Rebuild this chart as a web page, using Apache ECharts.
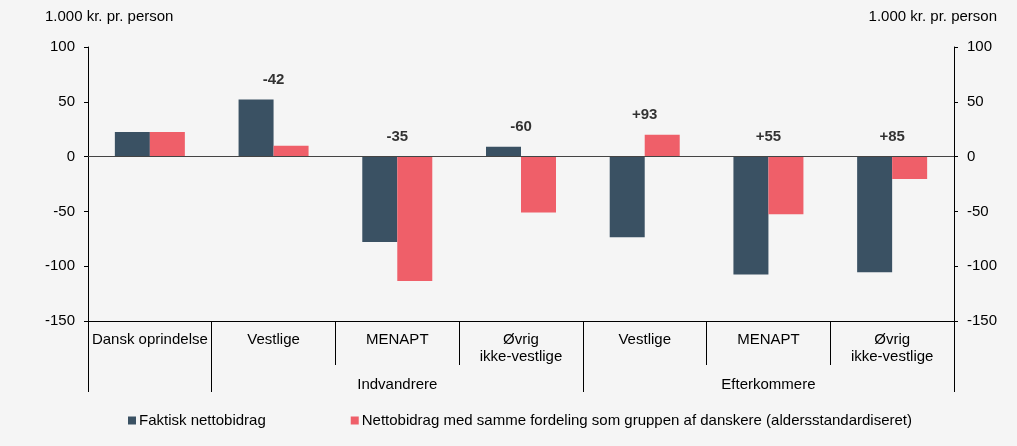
<!DOCTYPE html>
<html>
<head>
<meta charset="utf-8">
<script src="https://cdn.jsdelivr.net/npm/echarts@6/dist/echarts.min.js"></script>
<style>
  html, body { margin: 0; padding: 0; background: #f5f5f5; }
  #chart { width: 1017px; height: 446px; }
</style>
</head>
<body>
<div id="chart"></div>
<script>
// categories on the axis and the two group labels under them
var categories = ['Dansk oprindelse', 'Vestlige', 'MENAPT', 'Øvrig\nikke-vestlige', 'Vestlige', 'MENAPT', 'Øvrig\nikke-vestlige']
var groups = ['', '', 'Indvandrere', '', '', 'Efterkommere', '']
var groupEdges = [0, 1, 4]

// 1.000 kr. pr. person
var faktisk = [22.5, 52, -78, 9, -73.5, -107.5, -105.5]
var samme = [22.5, 10, -113.5, -51, 20, -52.5, -20.5]
var diffLabels = ['', '-42', '-35', '-60', '+93', '+55', '+85']

var yTicks = { min: -150, max: 100, interval: 50 }

var font = 'Liberation Sans, Arial, sans-serif'
var dark = '#3a5163'
var red = '#ef5f69'

var labelPos = faktisk.map(function (v, i) {
  return Math.max(0, v, samme[i])
})

var myChart = echarts.init(document.getElementById('chart'))

var yAxisBase = {
  type: 'value',
  min: yTicks.min,
  max: yTicks.max,
  interval: yTicks.interval,
  axisLine: { show: true, lineStyle: { color: '#000', width: 1 } },
  axisTick: { show: true, length: 4, lineStyle: { color: '#000' } },
  axisLabel: { color: '#000', fontSize: 15, fontFamily: font, margin: 13 },
  splitLine: { show: false }
}

var option = {
  backgroundColor: '#f5f5f5',
  animation: false,
  textStyle: { fontFamily: font },
  grid: { left: 88, right: 63, top: 47, bottom: 125 },
  graphic: [
    { type: 'text', left: 45, top: 9, style: { text: '1.000 kr. pr. person', fontSize: 15, fontFamily: font, fill: '#000' } },
    { type: 'text', right: 20, top: 9, style: { text: '1.000 kr. pr. person', fontSize: 15, fontFamily: font, fill: '#000' } }
  ],
  legend: {
    data: ['Faktisk nettobidrag', 'Nettobidrag med samme fordeling som gruppen af danskere (aldersstandardiseret)'],
    left: 123,
    top: 408,
    icon: 'rect',
    itemWidth: 8,
    itemHeight: 8,
    itemGap: 85,
    textStyle: { color: '#000', fontSize: 15, fontFamily: font, padding: [0, 0, 0, -2] }
  },
  xAxis: [
    {
      type: 'category',
      data: categories,
      position: 'bottom',
      axisLine: { onZero: false, lineStyle: { color: '#000', width: 1 } },
      axisTick: { show: true, interval: 0, length: 44, lineStyle: { color: '#000' } },
      axisLabel: { interval: 0, color: '#000', fontSize: 15, fontFamily: font, lineHeight: 17, margin: 10 }
    },
    {
      type: 'category',
      data: groups,
      position: 'bottom',
      axisLine: { show: false, onZero: false },
      axisTick: {
        show: true,
        length: 71,
        interval: function (index) { return groupEdges.indexOf(index) >= 0 },
        lineStyle: { color: '#000' }
      },
      axisLabel: { interval: 0, color: '#000', fontSize: 15, fontFamily: font, margin: 56 }
    }
  ],
  yAxis: [
    Object.assign({}, yAxisBase, { position: 'left' }),
    Object.assign({}, yAxisBase, { position: 'right' })
  ],
  series: [
    {
      name: 'Faktisk nettobidrag',
      type: 'bar',
      xAxisIndex: 0,
      yAxisIndex: 0,
      barWidth: 35,
      barGap: '0%',
      itemStyle: { color: dark },
      data: faktisk,
      markLine: {
        silent: true,
        symbol: 'none',
        label: { show: false },
        lineStyle: { color: '#444', type: 'solid', width: 1 },
        data: [{ yAxis: 0 }]
      }
    },
    {
      name: 'Nettobidrag med samme fordeling som gruppen af danskere (aldersstandardiseret)',
      type: 'bar',
      xAxisIndex: 0,
      yAxisIndex: 0,
      barWidth: 35,
      barGap: '0%',
      itemStyle: { color: red },
      data: samme
    },
    {
      name: 'forskel',
      type: 'scatter',
      xAxisIndex: 0,
      yAxisIndex: 0,
      symbolSize: 1,
      itemStyle: { color: 'transparent' },
      label: {
        show: true,
        position: 'top',
        distance: 12,
        color: '#000',
        fontSize: 15,
        fontWeight: 'bold',
        fontFamily: font,
        formatter: function (p) { return diffLabels[p.dataIndex] }
      },
      data: labelPos
    }
  ]
}

myChart.setOption(option)
</script>
</body>
</html>
